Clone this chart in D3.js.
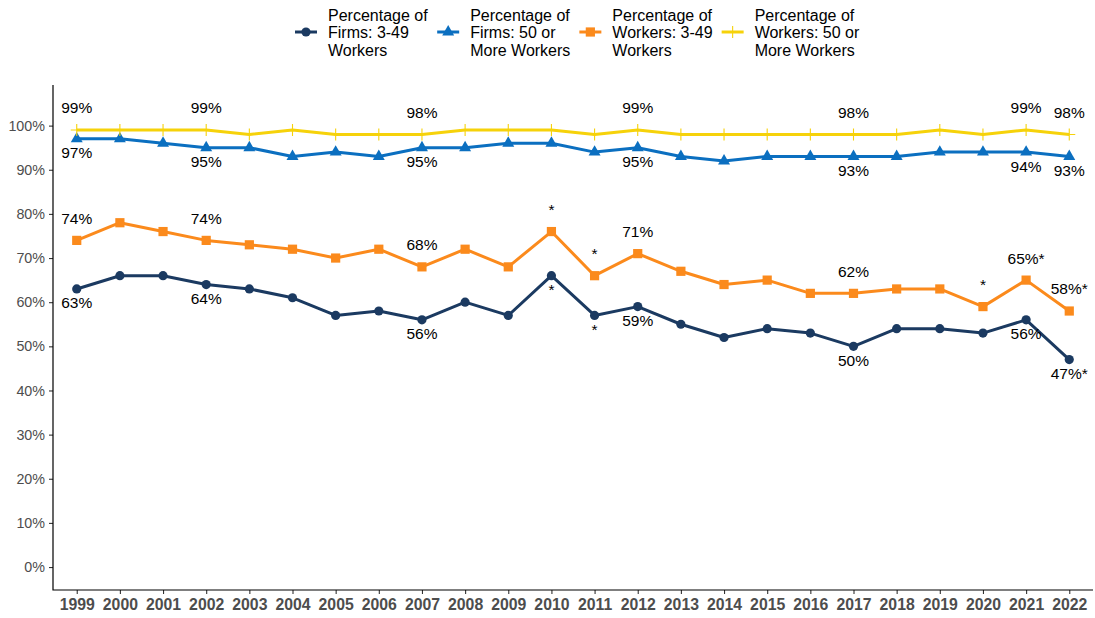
<!DOCTYPE html>
<html>
<head>
<meta charset="utf-8">
<script src="https://cdn.jsdelivr.net/npm/d3@7"></script>
<style>
  body { margin: 0; background: #fff; }
  svg { display: block; font-family: Arial, "Liberation Sans", sans-serif; }
</style>
</head>
<body>
<svg id="chart" width="1095" height="618"></svg>
<script>
// survey years
var years = [1999, 2000, 2001, 2002, 2003, 2004, 2005, 2006, 2007, 2008, 2009, 2010,
             2011, 2012, 2013, 2014, 2015, 2016, 2017, 2018, 2019, 2020, 2021, 2022];

// percent offering benefits
var firmsSmall   = [63, 66, 66, 64, 63, 61, 57, 58, 56, 60, 57, 66, 57, 59, 55, 52, 54, 53, 50, 54, 54, 53, 56, 47];
var firmsLarge   = [97, 97, 96, 95, 95, 93, 94, 93, 95, 95, 96, 96, 94, 95, 93, 92, 93, 93, 93, 93, 94, 94, 94, 93];
var workersSmall = [74, 78, 76, 74, 73, 72, 70, 72, 68, 72, 68, 76, 66, 71, 67, 64, 65, 62, 62, 63, 63, 59, 65, 58];
var workersLarge = [99, 99, 99, 99, 98, 99, 98, 98, 98, 99, 99, 99, 98, 99, 98, 98, 98, 98, 98, 98, 99, 98, 99, 98];

// years that get a value label, and years flagged with an asterisk
var labelYears = [1999, 2002, 2007, 2012, 2017, 2021, 2022];
var starFirmsSmall = [2010, 2011, 2022];
var starWorkersSmall = [2010, 2011, 2020, 2021, 2022];

var yTicks = [0, 10, 20, 30, 40, 50, 60, 70, 80, 90, 100];

var series = [
    {name: ['Percentage of', 'Firms: 3-49', 'Workers'], values: firmsSmall,
     stars: starFirmsSmall, color: '#1b3a61', shape: 'circle', below: true},
    {name: ['Percentage of', 'Firms: 50 or', 'More Workers'], values: firmsLarge,
     stars: [], color: '#0b6fc0', shape: 'triangle', below: true},
    {name: ['Percentage of', 'Workers: 3-49', 'Workers'], values: workersSmall,
     stars: starWorkersSmall, color: '#fb8a1c', shape: 'square', below: false},
    {name: ['Percentage of', 'Workers: 50 or', 'More Workers'], values: workersLarge,
     stars: [], color: '#f6d20a', shape: 'plus', below: false}
];

(function() {
var svg = d3.select('#chart');

var plotLeft = 53, plotRight = 1093, plotTop = 85, plotBottom = 590;

var x = d3.scalePoint()
    .domain(years)
    .range([plotLeft, plotRight])
    .padding(0.55);

var y = d3.scaleLinear()
    .domain([-5.2, 109.2])
    .range([plotBottom, plotTop]);

// axes
var yAxis = svg.append('g')
    .attr('transform', 'translate(' + plotLeft + ',0)')
    .call(d3.axisLeft(y).tickValues(yTicks).tickSize(4).tickPadding(4)
        .tickFormat(function(d) { return d + '%'; }));
yAxis.select('.domain').remove();
yAxis.selectAll('.tick line').attr('stroke', '#333').attr('stroke-width', 1.1);
yAxis.selectAll('.tick text')
    .attr('fill', '#4d4d4d')
    .style('font-size', '14.3px')
    .style('font-family', 'Arial, "Liberation Sans", sans-serif');

var xAxis = svg.append('g')
    .attr('transform', 'translate(0,' + plotBottom + ')')
    .call(d3.axisBottom(x).tickSize(4).tickPadding(5));
xAxis.select('.domain').remove();
xAxis.selectAll('.tick line').attr('stroke', '#333').attr('stroke-width', 1.1);
xAxis.selectAll('.tick text')
    .attr('fill', '#4d4d4d')
    .style('font-size', '15.8px')
    .style('font-weight', 'bold')
    .style('font-family', 'Arial, "Liberation Sans", sans-serif');

svg.append('path')
    .attr('d', 'M' + plotLeft + ',' + plotTop + 'V' + plotBottom + 'H' + plotRight)
    .attr('fill', 'none')
    .attr('stroke', '#000')
    .attr('stroke-width', 1.2);

function drawSymbol(g, shape, color) {
    if (shape === 'circle') {
        g.append('circle').attr('r', 4.6).attr('fill', color);
    } else if (shape === 'square') {
        g.append('rect').attr('x', -4.6).attr('y', -4.6)
            .attr('width', 9.2).attr('height', 9.2).attr('fill', color);
    } else if (shape === 'triangle') {
        g.append('path').attr('d', d3.symbol(d3.symbolTriangle, 62)()).attr('fill', color);
    } else {
        g.append('path').attr('d', 'M-6,0H6M0,-6V6')
            .attr('stroke', color).attr('stroke-width', 1.1).attr('fill', 'none');
    }
}

var line = d3.line()
    .x(function(d) { return x(d.year); })
    .y(function(d) { return y(d.value); });

series.forEach(function(s) {
    var pts = years.map(function(yr, i) { return {year: yr, value: s.values[i]}; });
    var g = svg.append('g');
    g.append('path')
        .datum(pts)
        .attr('d', line)
        .attr('fill', 'none')
        .attr('stroke', s.color)
        .attr('stroke-width', 3)
        .attr('stroke-linejoin', 'round');
    pts.forEach(function(p) {
        var m = g.append('g')
            .attr('transform', 'translate(' + x(p.year) + ',' + y(p.value) + ')');
        drawSymbol(m, s.shape, s.color);
    });
    // value labels and significance stars
    pts.forEach(function(p) {
        var labelled = labelYears.indexOf(p.year) >= 0;
        var star = s.stars.indexOf(p.year) >= 0;
        if (!labelled && !star) return;
        var txt = (labelled ? p.value + '%' : '') + (star ? '*' : '');
        var off = s.below ? 14 : -22;
        g.append('text')
            .attr('x', x(p.year))
            .attr('y', y(p.value) + off)
            .attr('dy', '0.35em')
            .attr('text-anchor', 'middle')
            .attr('fill', '#000')
            .style('font-size', '15.5px')
            .text(txt);
    });
});

// legend
var legend = svg.append('g');
var lx = 295;
series.forEach(function(s) {
    var item = legend.append('g').attr('transform', 'translate(' + lx + ',0)');
    item.append('line')
        .attr('x1', 0).attr('x2', 22)
        .attr('y1', 32).attr('y2', 32)
        .attr('stroke', s.color).attr('stroke-width', 3);
    drawSymbol(item.append('g').attr('transform', 'translate(11,32)'), s.shape, s.color);
    var t = item.append('text')
        .attr('fill', '#000')
        .style('font-size', '16px');
    s.name.forEach(function(n, i) {
        t.append('tspan')
            .attr('x', 33)
            .attr('y', 15 + i * 17.5)
            .attr('dy', '0.35em')
            .text(n);
    });
    lx += 33 + t.node().getBBox().width + 9;
});
})();
</script>
</body>
</html>
